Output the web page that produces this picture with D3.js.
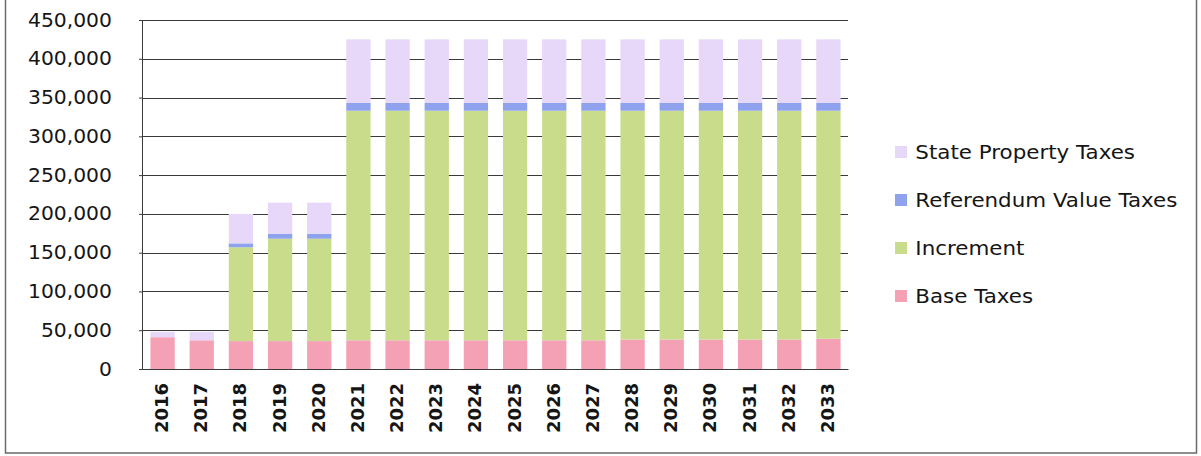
<!DOCTYPE html>
<html>
<head>
<meta charset="utf-8">
<script src="https://cdn.jsdelivr.net/npm/d3@7"></script>
<style>
  html, body { margin: 0; padding: 0; background: #ffffff; }
  svg { display: block; }
  text { font-family: "DejaVu Sans", sans-serif; fill: #151515; }
</style>
</head>
<body>
<svg id="chart" width="1201" height="456"></svg>
<script>
// Tax revenue by year, stacked by component
const years = ["2016","2017","2018","2019","2020","2021","2022","2023","2024","2025",
               "2026","2027","2028","2029","2030","2031","2032","2033"];
const baseTaxes      = [41000, 37000, 36000, 36000, 36000, 37000, 37000, 37000, 37000, 37000,
                        37000, 37000, 38000, 38000, 38000, 38000, 38000, 39000];
const increment      = [0, 0, 121000, 132000, 132000, 296000, 296000, 296000, 296000, 296000,
                        296000, 296000, 295000, 295000, 295000, 295000, 295000, 294000];
const referendumTax  = [0, 0, 5000, 6500, 6500, 10000, 10000, 10000, 10000, 10000,
                        10000, 10000, 10000, 10000, 10000, 10000, 10000, 10000];
const statePropTax   = [7000, 11000, 38000, 40000, 40000, 82000, 82000, 82000, 82000, 82000,
                        82000, 82000, 82000, 82000, 82000, 82000, 82000, 82000];
const seriesNames = ["Base Taxes", "Increment", "Referendum Value Taxes", "State Property Taxes"];
const seriesColors = ["#f4a1b6", "#c8dc8c", "#8fa2ee", "#e7d7f8"];
const yTicks = [0, 50000, 100000, 150000, 200000, 250000, 300000, 350000, 400000, 450000];

const svg = d3.select("#chart");
const margin = { left: 143, top: 20, right: 353, bottom: 87 };
const W = 1201, H = 456;
const iw = W - margin.left - margin.right;
const ih = H - margin.top - margin.bottom;

// outer frame
svg.append("rect")
  .attr("x", 5.5).attr("y", -2).attr("width", 1191).attr("height", 455)
  .attr("fill", "none").attr("stroke", "#6a6a6a").attr("stroke-width", 1.5);

const g = svg.append("g").attr("transform", `translate(${margin.left},${margin.top})`);

const x = d3.scaleBand().domain(years).range([0, iw]).paddingInner(0.38).paddingOuter(0.19);
const y = d3.scaleLinear().domain([0, 450000]).range([ih, 0]);

// horizontal gridlines
g.append("g").selectAll("line").data(yTicks).join("line")
  .attr("x1", 0).attr("x2", iw)
  .attr("y1", d => Math.round(y(d)) + 0.5).attr("y2", d => Math.round(y(d)) + 0.5)
  .attr("stroke", "#3a3a3a").attr("stroke-width", 1);

// stacked bars
const rows = years.map((yr, i) => ({
  year: yr,
  "Base Taxes": baseTaxes[i],
  "Increment": increment[i],
  "Referendum Value Taxes": referendumTax[i],
  "State Property Taxes": statePropTax[i]
}));
const stacked = d3.stack().keys(seriesNames)(rows);

g.append("g").selectAll("g").data(stacked).join("g")
  .attr("fill", (d, i) => seriesColors[i])
  .selectAll("rect").data(d => d).join("rect")
  .attr("x", d => x(d.data.year))
  .attr("width", x.bandwidth())
  .attr("y", d => y(d[1]))
  .attr("height", d => y(d[0]) - y(d[1]));

// y axis
const yAxis = g.append("g")
  .call(d3.axisLeft(y).tickValues(yTicks).tickFormat(d3.format(",")).tickSize(4).tickPadding(25));
yAxis.select(".domain").attr("stroke", "#3a3a3a").attr("d", `M-0.5,${ih}V0`);
yAxis.selectAll(".tick line").attr("stroke", "#3a3a3a");
yAxis.selectAll("text")
  .style("font-size", "19px")
  .attr("transform", "scale(1.07,1)");

// x axis
const xAxis = g.append("g").attr("transform", `translate(0,${ih})`)
  .call(d3.axisBottom(x).tickSize(0).tickPadding(0));
xAxis.select(".domain").attr("stroke", "#3a3a3a");
xAxis.selectAll("text")
  .style("font-size", "18px")
  .style("font-weight", "bold")
  .attr("text-anchor", "end")
  .attr("dy", "0.36em")
  .attr("transform", "translate(-1,14) rotate(-90)")
  .attr("x", 0).attr("y", 0);

// legend, top entry is the top of the stack
const legendItems = seriesNames.slice().reverse();
const legendColors = seriesColors.slice().reverse();
const legend = svg.append("g").attr("transform", "translate(895,152)");
const li = legend.selectAll("g").data(legendItems).join("g")
  .attr("transform", (d, i) => `translate(0,${i * 48})`);
li.append("rect")
  .attr("x", 0).attr("y", -6).attr("width", 12).attr("height", 12)
  .attr("fill", (d, i) => legendColors[i]);
li.append("text")
  .attr("x", 19).attr("y", 0).attr("dy", "0.36em")
  .style("font-size", "20px")
  .attr("transform", "scale(1.07,1)")
  .text(d => d);
</script>
</body>
</html>
